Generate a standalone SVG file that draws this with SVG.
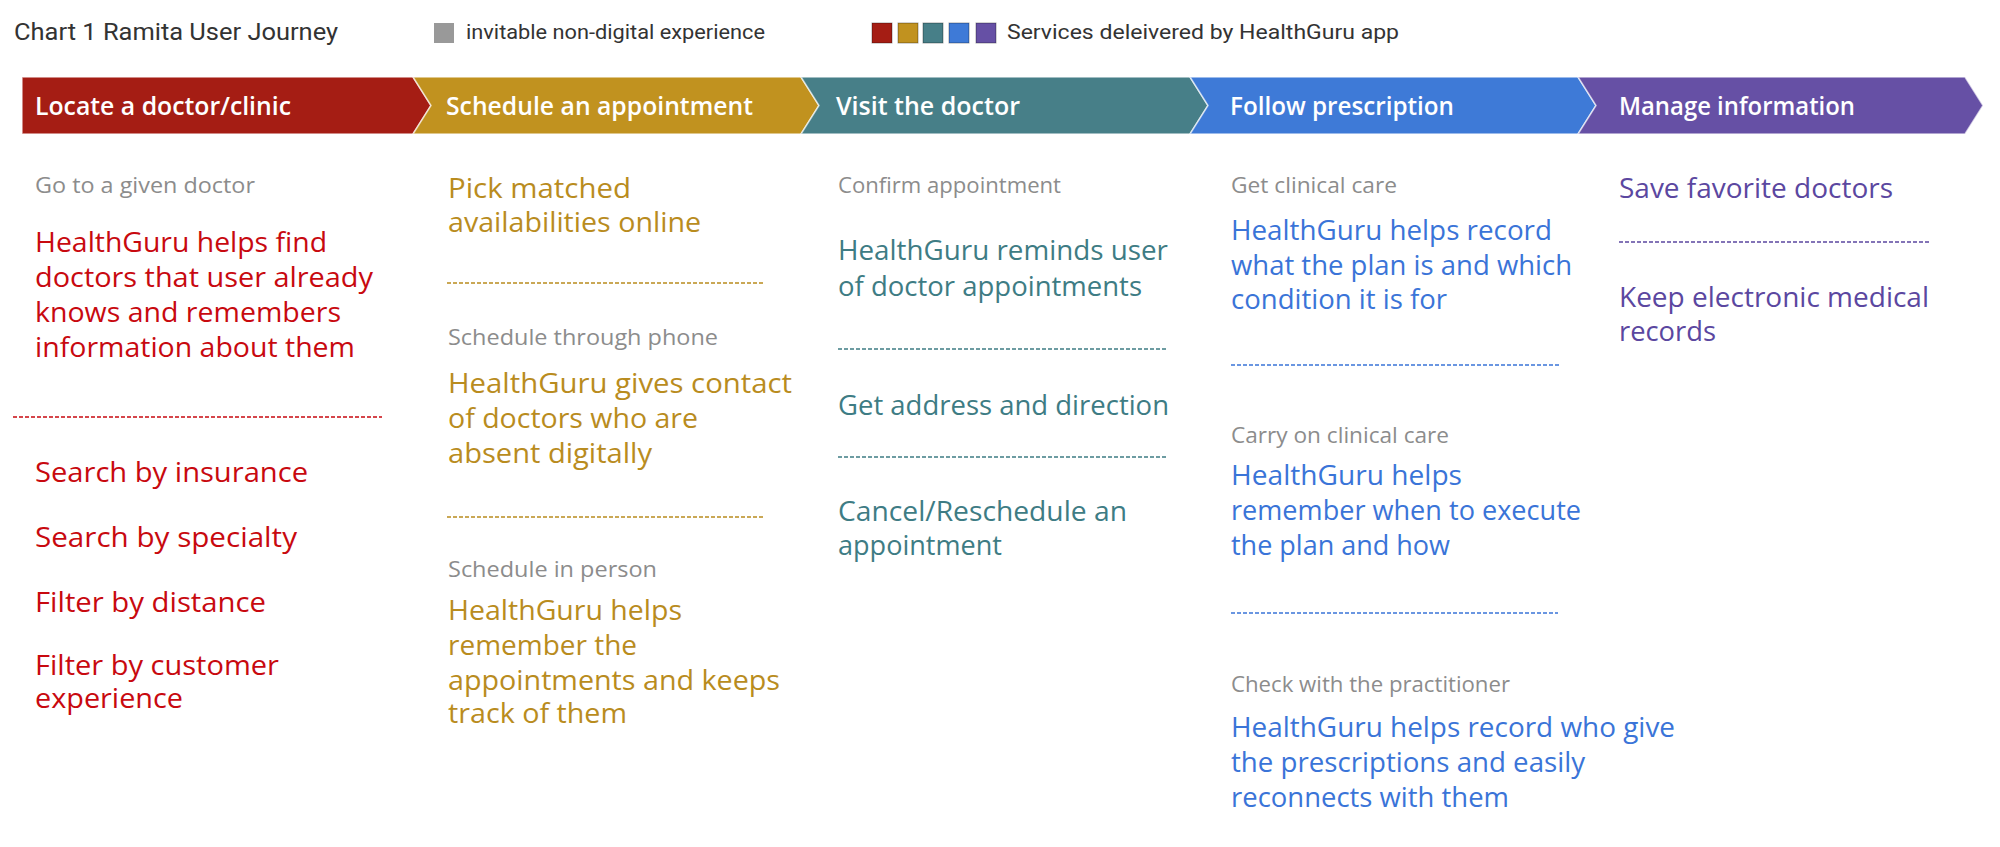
<svg xmlns="http://www.w3.org/2000/svg" width="2000" height="847" viewBox="0 0 2000 847">
<style>
.hdr{font-family:Roboto,"Liberation Sans",sans-serif;font-size:23px;fill:#333}
.leg{font-family:Roboto,"Liberation Sans",sans-serif;font-size:20px;fill:#333}
.stg{font-family:"Open Sans","Noto Sans",sans-serif;font-size:25px;font-weight:600;fill:#fff}
.chev{stroke:#fff;stroke-opacity:.65;stroke-width:1.5}
.b{font-family:"Open Sans","Noto Sans",sans-serif;font-size:27px}
.g{font-family:"Open Sans","Noto Sans",sans-serif;font-size:21.5px;fill:#8c8c8c}
.dash{fill:none;stroke-width:1.3;stroke-dasharray:4 2}
.red{fill:#c8090f}.gold{fill:#b98c1e}.teal{fill:#3e7c84}.blue{fill:#3a74d8}.purple{fill:#5b47a0}
.sred{stroke:#c8090f}.sgold{stroke:#b98c1e}.steal{stroke:#3e7c84}.sblue{stroke:#3a74d8}.spurple{stroke:#5b47a0}
.sq{stroke-width:1;stroke-opacity:.35;stroke:#000}
</style>
<rect width="2000" height="847" fill="#fff"/>

<g id="header">
<text class="hdr" x="14" y="40" textLength="324" lengthAdjust="spacingAndGlyphs">Chart 1 Ramita User Journey</text>
<rect x="434" y="23" width="20" height="20" fill="#999"/>
<text class="leg" x="466" y="39" textLength="299" lengthAdjust="spacingAndGlyphs">invitable non-digital experience</text>
<rect class="sq" x="872" y="23" width="20" height="20" fill="#a51d14"/>
<rect class="sq" x="898" y="23" width="20" height="20" fill="#c1921f"/>
<rect class="sq" x="923" y="23" width="20" height="20" fill="#477f88"/>
<rect class="sq" x="949" y="23" width="20" height="20" fill="#3e7ad7"/>
<rect class="sq" x="976" y="23" width="20" height="20" fill="#6650a5"/>
<text class="leg" x="1007" y="39" textLength="392" lengthAdjust="spacingAndGlyphs">Services deleivered by HealthGuru app</text>
</g>

<g id="stage-locate">
<polygon class="chev" fill="#a51d14" points="22,77 413,77 431,105.5 413,134 22,134"/>
<text class="stg" x="35" y="115" textLength="256" lengthAdjust="spacingAndGlyphs">Locate a doctor/clinic</text>
</g>
<g id="stage-schedule">
<polygon class="chev" fill="#c1921f" points="413,77 801,77 819,105.5 801,134 413,134 431,105.5"/>
<text class="stg" x="446" y="115" textLength="307" lengthAdjust="spacingAndGlyphs">Schedule an appointment</text>
</g>
<g id="stage-visit">
<polygon class="chev" fill="#477f88" points="801,77 1190,77 1208,105.5 1190,134 801,134 819,105.5"/>
<text class="stg" x="836" y="115" textLength="184" lengthAdjust="spacingAndGlyphs">Visit the doctor</text>
</g>
<g id="stage-follow">
<polygon class="chev" fill="#3e7ad7" points="1190,77 1578,77 1596,105.5 1578,134 1190,134 1208,105.5"/>
<text class="stg" x="1230" y="115" textLength="224" lengthAdjust="spacingAndGlyphs">Follow prescription</text>
</g>
<g id="stage-manage">
<polygon class="chev" fill="#6650a5" points="1578,77 1965,77 1983,105.5 1965,134 1578,134 1596,105.5"/>
<text class="stg" x="1619" y="115" textLength="236" lengthAdjust="spacingAndGlyphs">Manage information</text>
</g>

<g id="col-locate">
<text class="g" x="35" y="193" textLength="220" lengthAdjust="spacingAndGlyphs">Go to a given doctor</text>
<text class="b red" x="35" y="252" textLength="292" lengthAdjust="spacingAndGlyphs">HealthGuru helps find</text>
<text class="b red" x="35" y="287" textLength="338" lengthAdjust="spacingAndGlyphs">doctors that user already</text>
<text class="b red" x="35" y="322" textLength="306" lengthAdjust="spacingAndGlyphs">knows and remembers</text>
<text class="b red" x="35" y="357" textLength="320" lengthAdjust="spacingAndGlyphs">information about them</text>
<line class="dash sred" x1="13" y1="417" x2="382" y2="417"/>
<text class="b red" x="35" y="482" textLength="273" lengthAdjust="spacingAndGlyphs">Search by insurance</text>
<text class="b red" x="35" y="547" textLength="262" lengthAdjust="spacingAndGlyphs">Search by specialty</text>
<text class="b red" x="35" y="612" textLength="231" lengthAdjust="spacingAndGlyphs">Filter by distance</text>
<text class="b red" x="35" y="675" textLength="244" lengthAdjust="spacingAndGlyphs">Filter by customer</text>
<text class="b red" x="35" y="708" textLength="148" lengthAdjust="spacingAndGlyphs">experience</text>
</g>

<g id="col-schedule">
<text class="b gold" x="448" y="198" textLength="183" lengthAdjust="spacingAndGlyphs">Pick matched</text>
<text class="b gold" x="448" y="232" textLength="253" lengthAdjust="spacingAndGlyphs">availabilities online</text>
<line class="dash sgold" x1="447" y1="283" x2="764" y2="283"/>
<text class="g" x="448" y="345" textLength="270" lengthAdjust="spacingAndGlyphs">Schedule through phone</text>
<text class="b gold" x="448" y="393" textLength="344" lengthAdjust="spacingAndGlyphs">HealthGuru gives contact</text>
<text class="b gold" x="448" y="428" textLength="250" lengthAdjust="spacingAndGlyphs">of doctors who are</text>
<text class="b gold" x="448" y="463" textLength="204" lengthAdjust="spacingAndGlyphs">absent digitally</text>
<line class="dash sgold" x1="447" y1="517" x2="764" y2="517"/>
<text class="g" x="448" y="577" textLength="209" lengthAdjust="spacingAndGlyphs">Schedule in person</text>
<text class="b gold" x="448" y="620" textLength="234" lengthAdjust="spacingAndGlyphs">HealthGuru helps</text>
<text class="b gold" x="448" y="655" textLength="189" lengthAdjust="spacingAndGlyphs">remember the</text>
<text class="b gold" x="448" y="690" textLength="332" lengthAdjust="spacingAndGlyphs">appointments and keeps</text>
<text class="b gold" x="448" y="723" textLength="179" lengthAdjust="spacingAndGlyphs">track of them</text>
</g>

<g id="col-visit">
<text class="g" x="838" y="193" textLength="223" lengthAdjust="spacingAndGlyphs">Confirm appointment</text>
<text class="b teal" x="838" y="260" textLength="330" lengthAdjust="spacingAndGlyphs">HealthGuru reminds user</text>
<text class="b teal" x="838" y="296" textLength="304" lengthAdjust="spacingAndGlyphs">of doctor appointments</text>
<line class="dash steal" x1="838" y1="349" x2="1167" y2="349"/>
<text class="b teal" x="838" y="415" textLength="331" lengthAdjust="spacingAndGlyphs">Get address and direction</text>
<line class="dash steal" x1="838" y1="457" x2="1167" y2="457"/>
<text class="b teal" x="838" y="521" textLength="289" lengthAdjust="spacingAndGlyphs">Cancel/Reschedule an</text>
<text class="b teal" x="838" y="555" textLength="164" lengthAdjust="spacingAndGlyphs">appointment</text>
</g>

<g id="col-follow">
<text class="g" x="1231" y="193" textLength="166" lengthAdjust="spacingAndGlyphs">Get clinical care</text>
<text class="b blue" x="1231" y="240" textLength="321" lengthAdjust="spacingAndGlyphs">HealthGuru helps record</text>
<text class="b blue" x="1231" y="275" textLength="341" lengthAdjust="spacingAndGlyphs">what the plan is and which</text>
<text class="b blue" x="1231" y="309" textLength="216" lengthAdjust="spacingAndGlyphs">condition it is for</text>
<line class="dash sblue" x1="1231" y1="365" x2="1560" y2="365"/>
<text class="g" x="1231" y="443" textLength="218" lengthAdjust="spacingAndGlyphs">Carry on clinical care</text>
<text class="b blue" x="1231" y="485" textLength="231" lengthAdjust="spacingAndGlyphs">HealthGuru helps</text>
<text class="b blue" x="1231" y="520" textLength="350" lengthAdjust="spacingAndGlyphs">remember when to execute</text>
<text class="b blue" x="1231" y="555" textLength="219" lengthAdjust="spacingAndGlyphs">the plan and how</text>
<line class="dash sblue" x1="1231" y1="613" x2="1558" y2="613"/>
<text class="g" x="1231" y="692" textLength="279" lengthAdjust="spacingAndGlyphs">Check with the practitioner</text>
<text class="b blue" x="1231" y="737" textLength="444" lengthAdjust="spacingAndGlyphs">HealthGuru helps record who give</text>
<text class="b blue" x="1231" y="772" textLength="354" lengthAdjust="spacingAndGlyphs">the prescriptions and easily</text>
<text class="b blue" x="1231" y="807" textLength="278" lengthAdjust="spacingAndGlyphs">reconnects with them</text>
</g>

<g id="col-manage">
<text class="b purple" x="1619" y="198" textLength="274" lengthAdjust="spacingAndGlyphs">Save favorite doctors</text>
<line class="dash spurple" x1="1619" y1="242" x2="1931" y2="242"/>
<text class="b purple" x="1619" y="307" textLength="310" lengthAdjust="spacingAndGlyphs">Keep electronic medical</text>
<text class="b purple" x="1619" y="341" textLength="97" lengthAdjust="spacingAndGlyphs">records</text>
</g>

<g id="connectors"/>
</svg>
